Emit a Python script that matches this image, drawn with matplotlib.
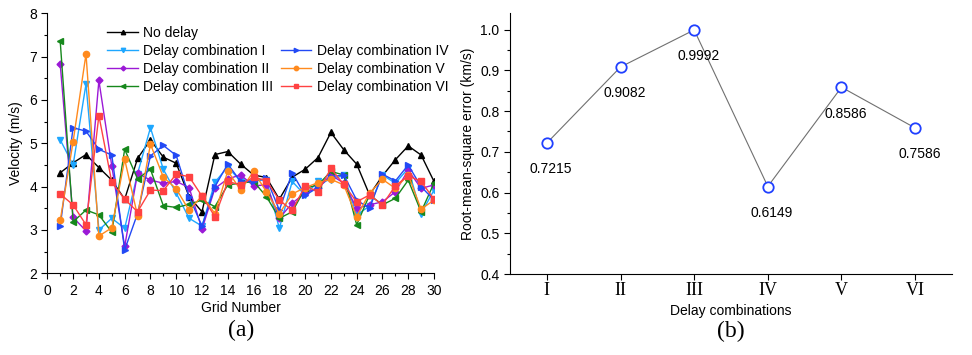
import numpy as np
import matplotlib
matplotlib.use("Agg")
import matplotlib.pyplot as plt
from matplotlib.lines import Line2D
from matplotlib.ticker import MultipleLocator

plt.rcParams['font.family'] = ['Liberation Sans', 'DejaVu Sans']

grid = list(range(1, 31))

no_delay = [4.32, 4.55, 4.74, 4.44, 4.15, 3.71, 4.65, 5.08, 4.68, 4.54,
            3.77, 3.42, 4.74, 4.81, 4.52, 4.27, 4.21, 3.71, 4.22, 4.40,
            4.67, 5.25, 4.85, 4.52, 3.81, 4.25, 4.62, 4.94, 4.73, 4.12]
comb_1 = [5.08, 4.50, 6.37, 3.00, 3.27, 3.04, 4.30, 5.36, 4.40, 3.85,
          3.27, 3.09, 4.10, 4.46, 4.12, 4.15, 4.15, 3.04, 4.12, 3.80,
          4.12, 4.15, 4.27, 3.35, 3.55, 4.27, 4.08, 4.42, 3.38, 3.92]
comb_2 = [6.82, 3.29, 2.98, 6.45, 4.48, 2.62, 4.31, 4.15, 4.08, 4.12,
          3.98, 3.02, 3.96, 4.18, 4.27, 4.02, 4.04, 3.27, 3.62, 3.85,
          3.98, 4.27, 4.08, 3.50, 3.58, 3.65, 3.88, 4.38, 3.96, 4.04]
comb_3 = [7.35, 3.19, 3.46, 3.35, 2.95, 4.86, 4.18, 4.40, 3.56, 3.52,
          3.59, 3.69, 3.54, 4.04, 4.08, 4.12, 3.77, 3.27, 3.42, 3.96,
          4.04, 4.35, 4.27, 3.12, 3.81, 3.58, 3.73, 4.15, 3.42, 4.08]
comb_4 = [3.09, 5.36, 5.28, 4.86, 4.73, 2.54, 3.38, 4.71, 4.95, 4.72,
          3.77, 3.09, 4.00, 4.52, 4.12, 4.12, 4.19, 3.46, 4.32, 3.80,
          3.98, 4.23, 4.27, 3.69, 3.50, 4.29, 4.13, 4.50, 4.00, 3.69]
comb_5 = [3.22, 5.04, 7.06, 2.86, 3.05, 4.63, 3.33, 4.98, 4.22, 3.95,
          3.45, 3.79, 3.38, 4.36, 3.92, 4.35, 3.88, 3.38, 3.83, 3.98,
          4.09, 4.17, 4.04, 3.31, 3.85, 4.17, 3.96, 4.27, 3.48, 3.69]
comb_6 = [3.83, 3.58, 3.12, 5.64, 4.10, 3.71, 3.42, 3.92, 3.91, 4.29,
          4.23, 3.78, 3.31, 4.12, 4.04, 4.22, 4.14, 3.69, 3.45, 4.02,
          3.88, 4.42, 4.05, 3.65, 3.81, 3.58, 4.02, 4.25, 4.12, 3.71]

combos = ["I", "II", "III", "IV", "V", "VI"]
rmse = [0.7215, 0.9082, 0.9992, 0.6149, 0.8586, 0.7586]

fig = plt.figure(figsize=(9.72, 3.55), dpi=100)
ax1 = fig.add_axes([0.0487, 0.2301, 0.3978, 0.7324])
ax2 = fig.add_axes([0.5247, 0.228, 0.4547, 0.7345])

# (a) velocity per grid
series = [
    (no_delay, "No delay", "black", "^", 4.5),
    (comb_1, "Delay combination I", "#1ea7ff", "v", 4.5),
    (comb_2, "Delay combination II", "#9b19d6", "D", 3.5),
    (comb_3, "Delay combination III", "#16881c", "<", 4.5),
    (comb_4, "Delay combination IV", "#2249f5", ">", 4.5),
    (comb_5, "Delay combination V", "#ff8a1e", "o", 4.5),
    (comb_6, "Delay combination VI", "#ff4242", "s", 4),
]
handles = []
for vals, lab, col, mk, ms in series:
    h, = ax1.plot(grid, vals, color=col, marker=mk, markersize=ms,
                  linewidth=1.0, label=lab)
    handles.append(h)
# empty slot so that column 2 starts on the second row
blank = Line2D([], [], color="none")
leg_h = handles[:4] + [blank] + handles[4:]
leg_l = [h.get_label() for h in handles[:4]] + [""] + [h.get_label() for h in handles[4:]]
ax1.legend(leg_h, leg_l, ncol=2, frameon=False, loc="upper left",
           bbox_to_anchor=(0.13, 0.99), fontsize=10, handlelength=2.2,
           labelspacing=0.3, columnspacing=0.5, handletextpad=0.4,
           borderpad=0.2, markerscale=0.7)

ax1.set_xlim(0, 30)
ax1.set_ylim(2, 8)
ax1.xaxis.set_major_locator(MultipleLocator(2))
ax1.xaxis.set_minor_locator(MultipleLocator(1))
ax1.yaxis.set_major_locator(MultipleLocator(1))
ax1.yaxis.set_minor_locator(MultipleLocator(0.5))
ax1.set_xlabel("Grid Number", fontsize=10, labelpad=2)
ax1.set_ylabel("Velocity (m/s)", fontsize=10, labelpad=4)
ax1.text(0.5, -0.22, "(a)", transform=ax1.transAxes, ha="center", va="center",
         fontsize=17, family="Liberation Serif")

# (b) RMSE per delay combination
xpos = np.arange(1, len(combos) + 1)
ax2.plot(xpos, rmse, color="#707070", linewidth=0.8, marker="o", markersize=7.5,
         markerfacecolor="white", markeredgecolor="#2040ff", markeredgewidth=1.3)
for xv, v in zip(xpos, rmse):
    ax2.annotate(f"{v:.4f}", (xv, v), xytext=(3, -19), textcoords="offset points",
                 ha="center", va="center", fontsize=10)
ax2.set_xlim(0.5, 6.5)
ax2.set_ylim(0.4, 1.04)
ax2.set_xticks(xpos)
ax2.set_xticklabels(combos, family="Liberation Serif", fontsize=13)
ax2.yaxis.set_major_locator(MultipleLocator(0.1))
ax2.yaxis.set_minor_locator(MultipleLocator(0.05))
ax2.set_xlabel("Delay combinations", fontsize=10, labelpad=3)
ax2.set_ylabel("Root-mean-square error (km/s)", fontsize=10, labelpad=4)
ax2.text(0.5, -0.22, "(b)", transform=ax2.transAxes, ha="center", va="center",
         fontsize=17, family="Liberation Serif")

for ax in (ax1, ax2):
    ax.spines["top"].set_visible(False)
    ax.spines["right"].set_visible(False)
    ax.tick_params(labelsize=10, length=4, width=0.8)
    ax.tick_params(which="minor", length=2.5, width=0.8)
ax2.tick_params(axis="x", labelsize=13, pad=2)

fig.savefig("out.png", dpi=100)
